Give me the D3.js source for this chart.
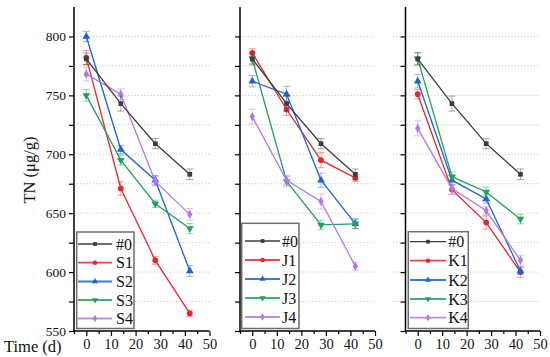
<!DOCTYPE html>
<html><head><meta charset="utf-8">
<script src="https://cdn.jsdelivr.net/npm/d3@7"></script>
<style>
body{margin:0;background:#fff;}
svg{display:block;font-family:"Liberation Serif","Times New Roman",serif;}
</style></head>
<body><svg id="c" width="550" height="357"></svg>
<script>
// ---- data ----
const days = [0, 14, 28, 42];
const xTicks = [0, 10, 20, 30, 40, 50];
const yTicks = [550, 600, 650, 700, 750, 800];
const yLabel = "TN (μg/g)";
const xLabel = "Time (d)";

const ctrlName = "#0";
const ctrl = [781, 743, 709, 683];
const ctrlErr = [5, 6.4, 4.3, 4.5];

const sNames = ["S1", "S2", "S3", "S4"];
const S1 = [782, 671, 610, 565], S1e = [6, 5.7, 3.4, 2.7];
const S2 = [800, 704, 678, 601], S2e = [4.3, 3.6, 4, 4.7];
const S3 = [750, 695, 658, 637], S3e = [5, 4.3, 3.1, 4.3];
const S4 = [768, 751, 677, 649], S4e = [5.7, 4.5, 4, 5];

const jNames = ["J1", "J2", "J3", "J4"];
const J1 = [786, 738, 695, 680], J1e = [3.5, 5, 6.4, 3];
const J2 = [762, 751, 678, 641], J2e = [4.8, 6.7, 6, 4];
const J3 = [781, 677, 640, 641], J3e = [4, 4, 4, 4];
const J4 = [732, 678, 660, 605], J4e = [6.2, 4, 6.5, 3.5];

const kNames = ["K1", "K2", "K3", "K4"];
const K1 = [751, 670, 642, 600], K1e = [4, 4, 5.7, 4.5];
const K2 = [762, 678, 662, 601], K2e = [5.7, 4, 3.5, 3];
const K3 = [781, 681, 668, 645], K3e = [5.4, 4, 4.3, 4];
const K4 = [722, 671, 652, 610], K4e = [6.4, 5, 3.5, 4.3];

// ---- styles ----
const colors = ["#3c3c3c", "#e3272d", "#1f62d2", "#23a05c", "#b378e6"];
const symbols = [d3.symbolSquare, d3.symbolCircle, d3.symbolTriangle, d3.symbolTriangle, d3.symbolDiamond];
const rotations = [0, 0, 0, 180, 0];
const symSizes = [22, 26, 26, 26, 24];

const svg = d3.select("#c");
const yTop = 7, yBot = 331;

const panels = [
  {names: sNames, vals: [S1, S2, S3, S4], errs: [S1e, S2e, S3e, S4e],
   left: 74, right: 209.5, gridL: 77, showY: true,
   lg: {x0: 76.7, x1: 134, y0: 232, y1: 328.5, l0: 78, l1: 112, tx: 116, rows: [244, 262.7, 281.5, 300, 318.5]}},
  {names: jNames, vals: [J1, J2, J3, J4], errs: [J1e, J2e, J3e, J4e],
   left: 240, right: 375, gridL: 242, showY: false,
   lg: {x0: 241.7, x1: 299, y0: 223.3, y1: 328.5, l0: 245, l1: 280, tx: 282, rows: [241, 260, 279, 298, 317]}},
  {names: kNames, vals: [K1, K2, K3, K4], errs: [K1e, K2e, K3e, K4e],
   left: 405.5, right: 540, gridL: 393, showY: false,
   lg: {x0: 408.3, x1: 468.3, y0: 231.7, y1: 328.5, l0: 410, l1: 446, tx: 448.3, rows: [241.7, 260.7, 280, 299, 317.7]}}
];

const y = d3.scaleLinear().domain([550, 825]).range([yBot, yTop]);
const minorY = d3.range(575, 826, 50);
const gridVals = d3.range(575, 801, 25);
const minorX = d3.range(-5, 50, 10);

function sym(i) {
  return d3.symbol().type(symbols[i]).size(symSizes[i])();
}

panels.forEach(p => {
  const x = d3.scaleLinear().domain([-5, 50]).range([p.left, p.right]);
  const g = svg.append("g");

  // grid
  g.selectAll("line.grid").data(gridVals).join("line")
    .attr("x1", p.gridL).attr("x2", p.right)
    .attr("y1", d => y(d)).attr("y2", d => y(d))
    .attr("stroke", "#c8c8c8").attr("stroke-width", 1).attr("stroke-dasharray", "1.2,2");

  // series: control + 4 treatments
  const allVals = [ctrl].concat(p.vals);
  const allErrs = [ctrlErr].concat(p.errs);
  const order = [1, 2, 3, 4, 0];
  order.forEach(si => {
    const vals = allVals[si], errs = allErrs[si], col = colors[si];
    const pts = days.map((d, i) => ({d, v: vals[i], e: errs[i]}));
    const sg = g.append("g");
    // error bars
    pts.forEach(pt => {
      const cx = x(pt.d);
      const eg = sg.append("g").attr("stroke", col).attr("stroke-opacity", 0.45).attr("stroke-width", 1);
      eg.append("line").attr("x1", cx).attr("x2", cx).attr("y1", y(pt.v - pt.e)).attr("y2", y(pt.v + pt.e));
      eg.append("line").attr("x1", cx - 3.5).attr("x2", cx + 3.5).attr("y1", y(pt.v - pt.e)).attr("y2", y(pt.v - pt.e));
      eg.append("line").attr("x1", cx - 3.5).attr("x2", cx + 3.5).attr("y1", y(pt.v + pt.e)).attr("y2", y(pt.v + pt.e));
    });
    sg.append("path").datum(pts)
      .attr("d", d3.line().x(d => x(d.d)).y(d => y(d.v)))
      .attr("fill", "none").attr("stroke", col).attr("stroke-width", 1.3);
    sg.selectAll("path.m").data(pts).join("path").attr("class", "m")
      .attr("d", sym(si)).attr("fill", col)
      .attr("transform", d => `translate(${x(d.d)},${y(d.v)}) rotate(${rotations[si]})`);
  });

  // axes
  const ya = g.append("g").attr("transform", `translate(${p.left},0)`)
    .call(d3.axisLeft(y).tickValues(yTicks).tickSize(5).tickFormat(p.showY ? d3.format("d") : ""));
  g.append("g").attr("transform", `translate(${p.left},0)`)
    .call(d3.axisLeft(y).tickValues(minorY.filter(v => v < 825)).tickSize(5).tickFormat(""))
    .call(a => a.select(".domain").remove());
  ya.select(".domain").attr("d", `M0,${yTop}V${yBot}`);
  const xa = g.append("g").attr("transform", `translate(0,${yBot})`)
    .call(d3.axisBottom(x).tickValues(xTicks).tickSize(5).tickFormat(d3.format("d")));
  g.append("g").attr("transform", `translate(0,${yBot})`)
    .call(d3.axisBottom(x).tickValues(minorX).tickSize(3).tickFormat(""))
    .call(a => a.select(".domain").remove());
  xa.select(".domain").attr("d", `M${p.left},0H${p.right}`);
  g.selectAll(".domain").attr("stroke", "#000").attr("stroke-width", 1.5);
  g.selectAll(".tick line").attr("stroke", "#000").attr("stroke-width", 1.2);
  ya.selectAll("text").attr("font-size", 13.5).attr("font-family", "Liberation Serif").attr("fill", "#111").attr("x", -8);
  xa.selectAll("text").attr("font-size", 14.5).attr("font-family", "Liberation Serif").attr("fill", "#111").attr("y", 8);

  // legend
  const L = p.lg;
  const lg = g.append("g");
  lg.append("rect").attr("x", L.x0).attr("y", L.y0).attr("width", L.x1 - L.x0).attr("height", L.y1 - L.y0)
    .attr("fill", "#fff").attr("stroke", "#6e6e6e").attr("stroke-width", 1.5);
  const names = [ctrlName].concat(p.names);
  names.forEach((nm, i) => {
    const ry = L.rows[i];
    lg.append("line").attr("x1", L.l0).attr("x2", L.l1).attr("y1", ry).attr("y2", ry)
      .attr("stroke", colors[i]).attr("stroke-width", i === 0 ? 1.3 : 1.8).attr("stroke-opacity", i === 0 ? 1 : 0.85);
    lg.append("path").attr("d", sym(i)).attr("fill", colors[i])
      .attr("transform", `translate(${(L.l0 + L.l1) / 2},${ry}) rotate(${rotations[i]}) scale(0.8)`);
    lg.append("text").attr("x", L.tx).attr("y", ry + 5.5).attr("font-size", 16).attr("fill", "#111").text(nm);
  });
});

// axis titles
svg.append("text").attr("transform", "translate(35,170) rotate(-90)")
  .attr("text-anchor", "middle").attr("font-size", 16.5).attr("fill", "#111").text(yLabel);
svg.append("text").attr("x", 4).attr("y", 352).attr("font-size", 16.5).attr("fill", "#111").text(xLabel);
</script></body></html>
